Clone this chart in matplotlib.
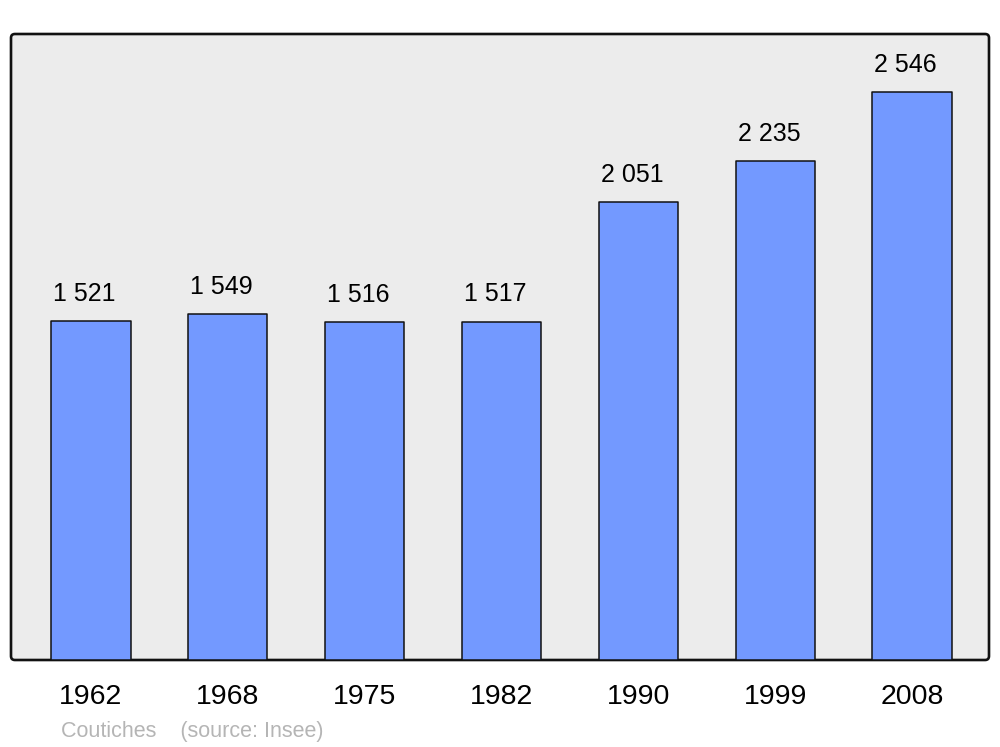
import numpy as np
import matplotlib.pyplot as plt
from matplotlib.patches import FancyBboxPatch

years = ["1962", "1968", "1975", "1982", "1990", "1999", "2008"]
population = [1521, 1549, 1516, 1517, 2051, 2235, 2546]
value_labels = ["1 521", "1 549", "1 516", "1 517", "2 051", "2 235", "2 546"]

plt.rcParams['font.family'] = ['Liberation Sans', 'DejaVu Sans']

fig = plt.figure(figsize=(10, 7.47), dpi=100)
ax = fig.add_axes([0.011, 87 / 747, 0.978, 626 / 747])
ax.set_facecolor('none')

# rounded grey frame behind the plot
frame = FancyBboxPatch((0, 0), 1, 1, boxstyle="round,pad=0,rounding_size=0.004",
                       transform=ax.transAxes, facecolor='#ececec', edgecolor='#111111',
                       linewidth=1.9, zorder=0, clip_on=False, mutation_aspect=978 / 626)
ax.add_patch(frame)

bar_w = 0.58
x = np.arange(len(years))
bars = ax.bar(x, population, width=bar_w, color='#7399ff', edgecolor='#111111',
              linewidth=1.1, zorder=2)
for b in bars:
    b.set_joinstyle('round')

# labels sit roughly left-aligned over each bar
for xi, v, lab in zip(x, population, value_labels):
    ax.annotate(lab, (xi - bar_w / 2, v), xytext=(1.5, 14.5), textcoords='offset points',
                ha='left', va='baseline', fontsize=18, color='black')

ax.set_xlim(-0.584, 6.562)
ax.set_ylim(0, 2806)
ax.set_xticks(x)
ax.set_xticklabels(years, fontsize=20.5)
ax.tick_params(axis='x', length=0, pad=17.5)
ax.set_yticks([])
for s in ax.spines.values():
    s.set_visible(False)

fig.text(0.061, 1 - 737 / 747, "Coutiches    (source: Insee)", fontsize=15.5,
         color='#b5b5b5', va='baseline', ha='left')

fig.savefig("out.png", dpi=100)
